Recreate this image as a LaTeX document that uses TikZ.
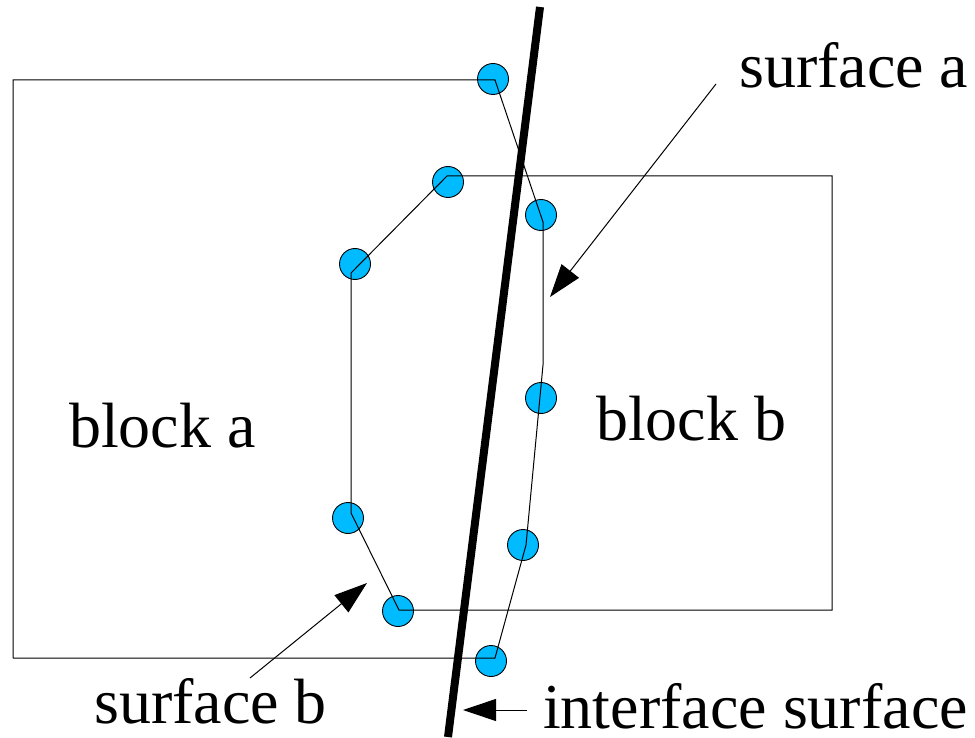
\documentclass[tikz,border=0pt]{standalone}
\usepackage{fontspec}
\setmainfont{Liberation Serif}
\usetikzlibrary{arrows.meta}
\definecolor{dotblue}{RGB}{0,187,255}
\begin{document}
\begin{tikzpicture}[x=1pt,y=-1pt,
  edge/.style={line width=1pt, line join=miter},
  dot/.style={circle, draw=black, line width=0.9pt, fill=dotblue, minimum size=31pt, inner sep=0pt},
  lbl/.style={anchor=base west, inner sep=0pt, text depth=0pt, font=\fontsize{64}{70}\selectfont},
  pointer/.style={line width=1pt, -{Triangle[length=33pt,width=22pt]}},
  iface/.style={line width=8pt}]
\useasboundingbox (0,0) rectangle (975,738);

% circles (drawn first, lines on top)
\node[dot] (c1) at (493,79) {};
\node[dot] (c2) at (448,182) {};
\node[dot] (c3) at (541,215) {};
\node[dot] (c4) at (355,264) {};
\node[dot] (c5) at (541,398) {};
\node[dot] (c6) at (523,545) {};
\node[dot] (c7) at (348,518) {};
\node[dot] (c8) at (398,611) {};
\node[dot] (c9) at (491,661) {};

% block a outline vertices
\coordinate (a1) at (13,80);
\coordinate (a2) at (495,80);
\coordinate (a3) at (543,222);
\coordinate (a4) at (543,365);
\coordinate (a5) at (526,545);
\coordinate (a6) at (495,658);
\coordinate (a7) at (13,658);
\draw[edge] (a7) -- (a1) -- (a2) -- (a3) -- (a4) -- (a5) -- (a6) -- (a7);

% block b outline vertices
\coordinate (b1) at (447,176);
\coordinate (b2) at (832,176);
\coordinate (b3) at (832,610);
\coordinate (b4) at (399,610);
\coordinate (b5) at (351,513);
\coordinate (b6) at (351,273);
\draw[edge] (b1) -- (b2) -- (b3) -- (b4) -- (b5) -- (b6) -- cycle;

% interface surface
\coordinate (i1) at (540,7);
\coordinate (i2) at (448,737);
\draw[iface] (i1) -- (i2);

% labels
\node[lbl] (la) at (69,447) {block a};
\node[lbl] (lb) at (596,440) {block b};
\node[lbl] (lsa) at (739,88) {surface a};
\node[lbl] (lsb) at (94,723) {surface b};
\node[lbl] (lif) at (543,728) {interface surface};

% pointers
\coordinate (pa0) at (716,84);
\coordinate (pa1) at (550,297);
\draw[pointer] (pa0) -- (pa1);
\coordinate (pb0) at (250,678);
\coordinate (pb1) at (367,583);
\draw[pointer] (pb0) -- (pb1);
\coordinate (pi0) at (527,710);
\coordinate (pi1) at (463,710);
\draw[pointer] (pi0) -- (pi1);
\end{tikzpicture}
\end{document}
